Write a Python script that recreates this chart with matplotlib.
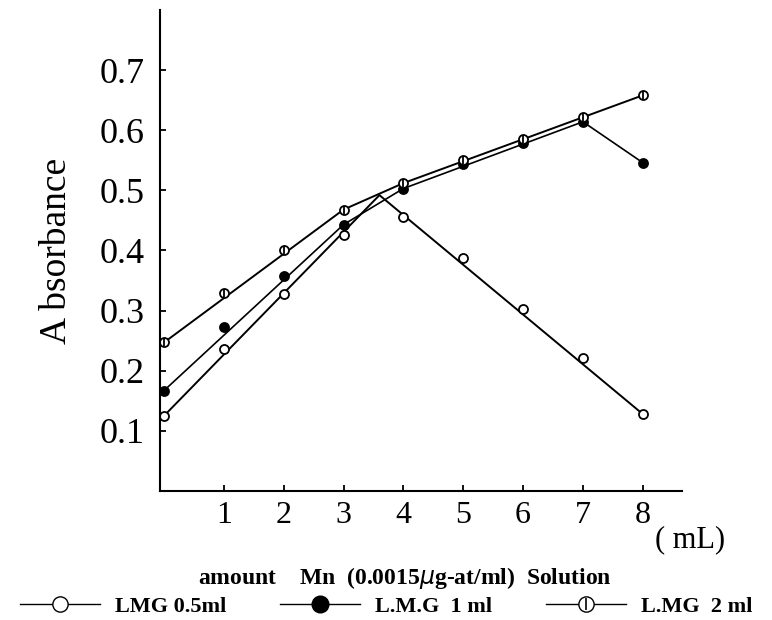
import matplotlib.pyplot as plt
from matplotlib.lines import Line2D

plt.rcParams['font.family'] = ['Liberation Serif', 'DejaVu Serif']

# measured points (mL of Mn solution vs absorbance)
x_pts = [0, 1, 2, 3, 4, 5, 6, 7, 8]
lmg_05 = [0.125, 0.237, 0.327, 0.425, 0.455, 0.387, 0.302, 0.222, 0.128]
lmg_1 = [0.167, 0.272, 0.357, 0.443, 0.503, 0.543, 0.578, 0.614, 0.546]
lmg_2 = [0.247, 0.330, 0.400, 0.468, 0.512, 0.551, 0.585, 0.622, 0.658]

# drawn lines, with the break point of the 0.5 ml curve
line_05_x = [0, 3.6, 8]
line_05_y = [0.125, 0.492, 0.128]
line_1_x = [0, 3, 4, 7, 8]
line_1_y = [0.167, 0.443, 0.503, 0.614, 0.546]
line_2_x = [0, 3, 4, 8]
line_2_y = [0.247, 0.468, 0.512, 0.658]

x_ticks = [1, 2, 3, 4, 5, 6, 7, 8]
y_ticks = [0.1, 0.2, 0.3, 0.4, 0.5, 0.6, 0.7]

fig = plt.figure(figsize=(7.72, 6.2), dpi=100)
ax = fig.add_axes([0.207, 0.208, 0.676, 0.776])

ax.plot(line_05_x, line_05_y, color='black', lw=1.4)
ax.plot(line_1_x, line_1_y, color='black', lw=1.2)
ax.plot(line_2_x, line_2_y, color='black', lw=1.4)

ms = 6.5
ax.plot(x_pts, lmg_05, 'o', ms=ms, mfc='white', mec='black', mew=1.3, clip_on=False)
ax.plot(x_pts, lmg_1, 'o', ms=ms, mfc='black', mec='black', mew=1.3, clip_on=False)
ax.plot(x_pts, lmg_2, 'o', ms=ms, mfc='white', mec='black', mew=1.3, clip_on=False)
ax.plot(x_pts, lmg_2, '|', ms=ms - 1, mec='black', mew=1.3, clip_on=False)

ax.set_xlim(-0.07, 8.65)
ax.set_ylim(0, 0.80)
ax.spines['top'].set_visible(False)
ax.spines['right'].set_visible(False)
ax.spines['left'].set_linewidth(1.5)
ax.spines['bottom'].set_linewidth(1.5)

ax.set_xticks(x_ticks)
ax.set_xticklabels([str(v) for v in x_ticks], fontsize=23)
ax.set_yticks(y_ticks)
ax.set_yticklabels([f'{v:.1f}' for v in y_ticks], fontsize=26)
ax.tick_params(direction='in', length=4, width=1.3, pad=7)
ax.tick_params(axis='y', pad=11)

ax.set_ylabel('A bsorbance', fontsize=27, labelpad=18)
fig.text(0.848, 0.118, '( mL)', fontsize=22)

fig.text(0.525, 0.058, 'amount    Mn  (0.0015$\\mu$g-at/ml)  Solution',
         fontsize=17, fontweight='bold', ha='center')

h_open = Line2D([], [], color='black', lw=1, marker='o', ms=11, mfc='white', mec='black')
h_fill = Line2D([], [], color='black', lw=1, marker='o', ms=12, mfc='black', mec='black')
h_bar = Line2D([], [], ls='none', marker='|', ms=9, mec='black', mew=1.2)
handles = [h_open, h_fill, (h_open, h_bar)]
labels = ['LMG 0.5ml', 'L.M.G  1 ml', 'L.MG  2 ml']
fig.legend(handles, labels, loc='center', bbox_to_anchor=(0.5, 0.022), ncol=3,
           frameon=False, prop={'weight': 'bold', 'size': 16},
           handlelength=3.6, columnspacing=2.4, handletextpad=0.7, borderaxespad=0)

fig.savefig('out.png', dpi=100)
